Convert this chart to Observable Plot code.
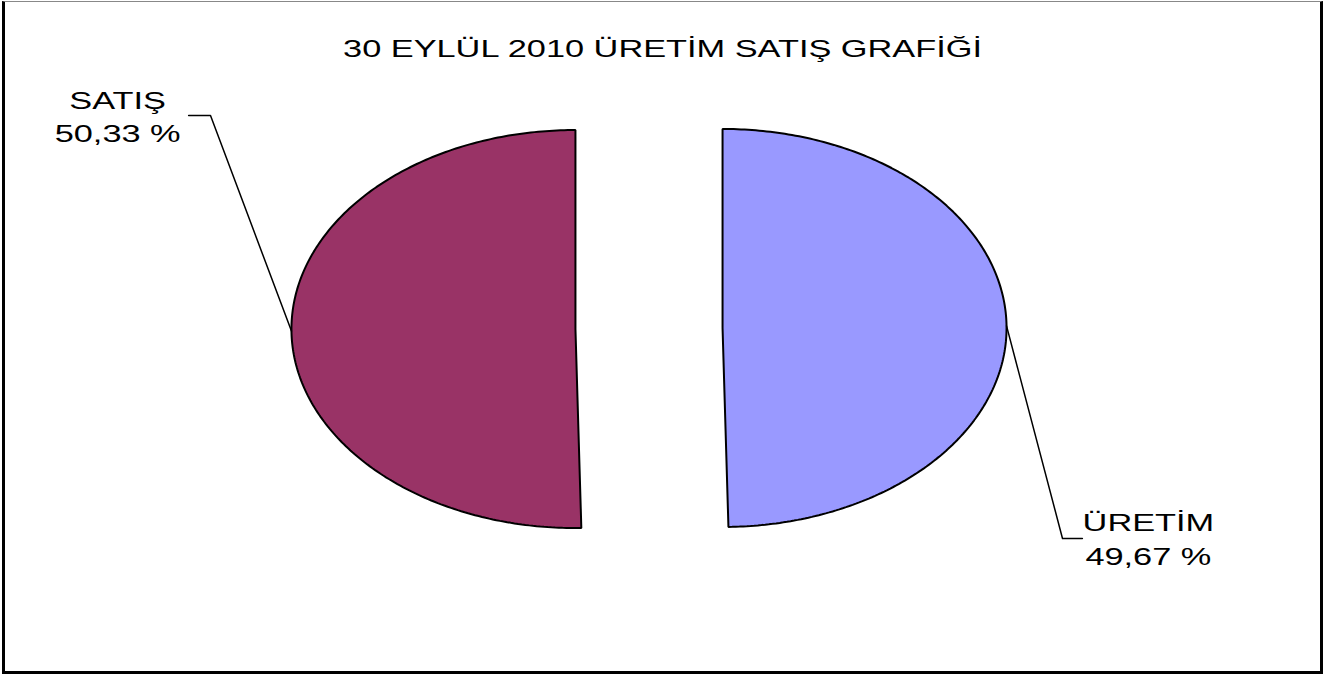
<!DOCTYPE html>
<html>
<head>
<meta charset="utf-8">
<script src="https://cdn.jsdelivr.net/npm/d3@7"></script>
<script src="https://cdn.jsdelivr.net/npm/@observablehq/plot@0.6"></script>
<style>
  body { margin: 0; background: #fff; }
  #wrap { position: relative; width: 1334px; height: 675px; }
  #border { position: absolute; left: 2px; top: 1px; width: 1321px; height: 673px; box-sizing: border-box;
            border-left: 3px solid #000; border-right: 3px solid #000; border-bottom: 3px solid #000;
            border-top: 1px solid #888; pointer-events: none; }
</style>
</head>
<body>
<div id="wrap"><div id="chart"></div><div id="border"></div></div>
<script>
// ---- data ----
const title = "30 EYLÜL 2010 ÜRETİM SATIŞ GRAFİĞİ";
const categories = ["ÜRETİM", "SATIŞ"];
const values = [49.67, 50.33];
const valueLabels = ["49,67 %", "50,33 %"];

// ---- style / layout ----
const sliceColors = ["#9999FF", "#993366"];
const W = 1334, H = 675;
const cxPx = 648.5, cyPx = 328, rxPx = 284, ryPx = 199;
const explode = 0.259;
const textStretch = 1.43;
const titlePos = [0.0475, 1.4005]; // title centre, in radius units relative to pie centre
// leader elbow (radius units, relative to pie center), horizontal run, text pixel offset
const leaderLayout = [
  { elbow: [1.456, -1.055], run: 0.07, textDx: 66, textDy: -1 },
  { elbow: [-1.544, 1.070], run: -0.077, textDx: -71, textDy: -1 }
];

const arcs = d3.pie().sort(null).value(d => d)(values);
const N = 240;
const slices = arcs.map((a, i) => {
  const mid = (a.startAngle + a.endAngle) / 2;
  const ox = explode * Math.sin(mid), oy = explode * Math.cos(mid);
  const pts = [[ox, oy]];
  for (let k = 0; k <= N; k++) {
    const t = a.startAngle + (a.endAngle - a.startAngle) * k / N;
    pts.push([ox + Math.sin(t), oy + Math.cos(t)]);
  }
  pts.push([ox, oy]);
  const edge = [ox + Math.sin(mid), oy + Math.cos(mid)];
  const L = leaderLayout[i];
  const elbow = L.elbow;
  const end = [elbow[0] + L.run, elbow[1]];
  return { pts, edge, elbow, end, i };
});

const font = "'Liberation Sans', Arial, Helvetica, sans-serif";
const marks = [];
slices.forEach(s => {
  marks.push(Plot.line(s.pts, { x: d => d[0], y: d => d[1], fill: sliceColors[s.i], stroke: "#000",
    strokeWidth: 2, strokeLinejoin: "miter", curve: "linear" }));
});
slices.forEach(s => {
  marks.push(Plot.line([s.edge, s.elbow, s.end], { x: d => d[0], y: d => d[1], stroke: "#000", strokeWidth: 1.5 }));
  const L = leaderLayout[s.i];
  marks.push(Plot.text([{ x: s.end[0], y: s.end[1], t: categories[s.i] + "\n" + valueLabels[s.i] }], {
    x: "x", y: "y", text: "t", textAnchor: "middle", lineAnchor: "middle", lineHeight: 1.4,
    fontSize: 24, fill: "#000", dx: L.textDx, dy: L.textDy }));
});
marks.push(Plot.text([{ x: titlePos[0], y: titlePos[1], t: title }], { x: "x", y: "y", text: "t",
  lineAnchor: "middle", textAnchor: "middle", fontSize: 24, fill: "#000" }));

const svg = Plot.plot({
  width: W, height: H,
  margin: 0,
  style: { fontFamily: font, background: "#fff" },
  x: { domain: [(0 - cxPx) / rxPx, (W - cxPx) / rxPx], axis: null },
  y: { domain: [(cyPx - H) / ryPx, cyPx / ryPx], axis: null },
  marks
});

// the reference picture is stretched horizontally; stretch glyphs the same way
svg.querySelectorAll("text").forEach(t => {
  const tr = t.getAttribute("transform") || "";
  t.setAttribute("transform", tr + ` scale(${textStretch},1)`);
});

document.getElementById("chart").appendChild(svg);
</script>
</body>
</html>
